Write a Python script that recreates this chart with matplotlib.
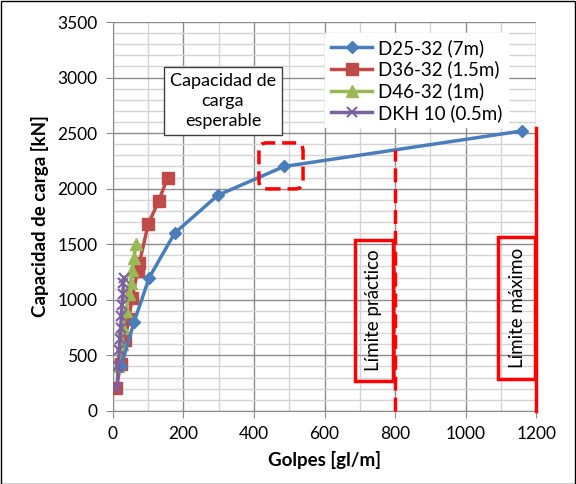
import matplotlib.pyplot as plt
from matplotlib.patches import Rectangle, FancyBboxPatch
from matplotlib.ticker import MultipleLocator

plt.rcParams['font.family'] = ['Lato', 'DejaVu Sans']

# Golpes [gl/m] vs capacidad de carga [kN] por martillo
golpes_d25 = [23, 60, 103, 175, 297, 485, 1160]
carga_d25 = [400, 800, 1200, 1600, 1940, 2200, 2520]

golpes_d36 = [10, 22, 35, 45, 55, 70, 75, 100, 130, 155]
carga_d36 = [210, 420, 640, 830, 1020, 1260, 1330, 1680, 1890, 2100]

golpes_d46 = [15, 25, 30, 38, 45, 50, 55, 60, 65]
carga_d46 = [400, 600, 750, 900, 1050, 1150, 1270, 1380, 1500]

golpes_dkh = [12, 15, 18, 20, 22, 24, 26, 28, 30, 32]
carga_dkh = [210, 400, 550, 650, 750, 850, 950, 1050, 1150, 1200]

limite_practico = 800
limite_maximo = 1200

fig = plt.figure(figsize=(5.76, 4.84), dpi=100)
ax = fig.add_axes([0.196, 0.151, 0.735, 0.8035])

ax.plot(golpes_d25, carga_d25, color='#4A7EBB', lw=2.5, marker='D', ms=6,
        label='D25-32 (7m)', zorder=5)
ax.plot(golpes_d36, carga_d36, color='#BE4B48', lw=2.5, marker='s', ms=8,
        label='D36-32 (1.5m)', zorder=4)
ax.plot(golpes_d46, carga_d46, color='#98B954', lw=2.5, marker='^', ms=8,
        label='D46-32 (1m)', zorder=4)
ax.plot(golpes_dkh, carga_dkh, color='#7D60A0', lw=2.5, marker='x', ms=7, mew=1.5,
        label='DKH 10 (0.5m)', zorder=6)

ax.set_xlim(0, 1200)
ax.set_ylim(0, 3500)
ax.xaxis.set_major_locator(MultipleLocator(200))
ax.xaxis.set_minor_locator(MultipleLocator(100))
ax.yaxis.set_major_locator(MultipleLocator(500))
ax.yaxis.set_minor_locator(MultipleLocator(100))
ax.grid(which='major', color='#8c8c8c', lw=1)
ax.grid(which='minor', color='#d4d4d4', lw=1)
ax.set_axisbelow(True)
ax.tick_params(which='major', direction='out', length=5, color='#8c8c8c',
               labelsize=12.5, pad=6)
ax.tick_params(which='minor', length=0)
for s in ['top', 'right']:
    ax.spines[s].set_visible(False)
for s in ['left', 'bottom']:
    ax.spines[s].set_color('#8c8c8c')

ax.set_xlabel('Golpes [gl/m]', fontsize=13.5, fontweight='bold', labelpad=6)
ax.set_ylabel('Capacidad de carga [kN]', fontsize=13.5, fontweight='bold', labelpad=6)

# límites práctico y máximo
ax.plot([limite_practico, limite_practico], [0, 2350], color='red', lw=2.5,
        ls=(0, (4, 2)), clip_on=False, zorder=7)
ax.plot([limite_maximo, limite_maximo], [0, 2547], color='red', lw=2.5,
        clip_on=False, zorder=7)

ax.add_patch(Rectangle((687, 270), 107, 1270, fill=False, ec='red', lw=2.5, zorder=7))
ax.text(740, 905, 'Límite práctico', rotation=90, ha='center', va='center',
        fontsize=13.5, zorder=8)
ax.add_patch(Rectangle((1092, 288), 105, 1278, fill=False, ec='red', lw=2.5,
                       zorder=7, clip_on=False))
ax.text(1146, 927, 'Límite máximo', rotation=90, ha='center', va='center',
        fontsize=13.5, zorder=8)

ax.add_patch(FancyBboxPatch((414, 1998), 125, 414,
                            boxstyle='round,pad=0,rounding_size=22',
                            mutation_aspect=3.17, fill=False, ec='red', lw=2.5,
                            ls=(0, (4, 2)), zorder=7))

ax.text(312, 2790, 'Capacidad de\ncarga\nesperable', ha='center', va='center',
        fontsize=13, linespacing=1.3, zorder=8,
        bbox=dict(boxstyle='square,pad=0.35', fc='white', ec='#404040', lw=1))

leg = ax.legend(loc='upper right', bbox_to_anchor=(0.955, 0.995), fontsize=13.5,
                frameon=True, fancybox=False, handlelength=2.2, handletextpad=0.3,
                borderpad=0.3, labelspacing=0.2)
leg.get_frame().set_edgecolor('white')
leg.get_frame().set_alpha(1)
leg.set_zorder(9)

fig.patches.append(Rectangle((0.001, 0.001), 0.997, 0.997, transform=fig.transFigure,
                             fill=False, ec='black', lw=1))

fig.savefig('out.png', dpi=100)
